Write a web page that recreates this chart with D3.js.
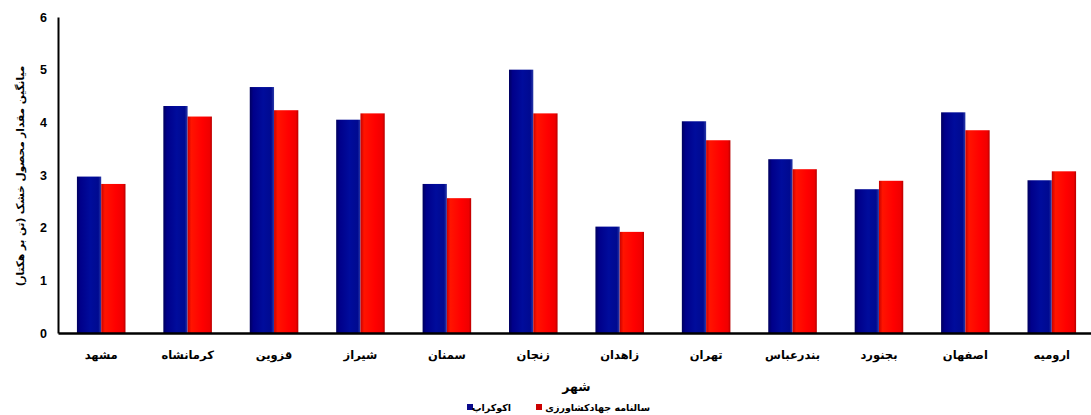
<!DOCTYPE html>
<html>
<head>
<meta charset="utf-8">
<script src="https://cdn.jsdelivr.net/npm/d3@7"></script>
<style>
  body { margin: 0; background: #fff; }
  svg { display: block; }
</style>
</head>
<body>
<svg id="chart"></svg>
<script>
// cities, left to right as in the picture
const cities = ["مشهد", "کرمانشاه", "قزوین", "شیراز", "سمنان", "زنجان",
                "زاهدان", "تهران", "بندرعباس", "بجنورد", "اصفهان", "ارومیه"];

// series values (ton / hectare)
const ecocrop = [2.97, 4.31, 4.67, 4.05, 2.83, 5.00, 2.02, 4.02, 3.30, 2.73, 4.19, 2.90];
const salnameh = [2.83, 4.11, 4.23, 4.17, 2.56, 4.17, 1.92, 3.66, 3.11, 2.89, 3.85, 3.07];

const seriesNames = ["اکوکراپ", "سالنامه جهادکشاورزی"];
const yTicks = [0, 1, 2, 3, 4, 5, 6];

const W = 1091, H = 415;
const plotLeft = 58, plotRight = 1095, plotTop = 17, plotBottom = 333;

const svg = d3.select("#chart").attr("width", W).attr("height", H);

// gradients to mimic the shaded bars
const defs = svg.append("defs");
function grad(id, stops) {
    const g = defs.append("linearGradient").attr("id", id)
        .attr("x1", "0%").attr("x2", "100%").attr("y1", "0%").attr("y2", "0%");
    stops.forEach(s => g.append("stop").attr("offset", s[0]).attr("stop-color", s[1]));
}
grad("gBlue", [["0%", "#00005e"], ["15%", "#00008a"], ["55%", "#000c9c"], ["88%", "#000a90"], ["100%", "#2a3aa8"]]);
grad("gRed", [["0%", "#c80000"], ["15%", "#ff1400"], ["60%", "#ff0000"], ["90%", "#f00000"], ["100%", "#b80000"]]);

const x = d3.scaleBand()
    .domain(cities)
    .range([plotLeft, plotRight])
    .paddingInner(0.438)
    .paddingOuter(0.219);

const x1 = d3.scaleBand()
    .domain([0, 1])
    .range([0, x.bandwidth()]);

const y = d3.scaleLinear()
    .domain([0, 6])
    .range([plotBottom, plotTop]);

// bars
const rows = cities.map((c, i) => ({ city: c, vals: [ecocrop[i], salnameh[i]] }));
const fills = ["url(#gBlue)", "url(#gRed)"];

svg.append("g").selectAll("g")
    .data(rows)
  .enter().append("g")
    .attr("transform", d => `translate(${x(d.city)},0)`)
  .selectAll("rect")
    .data(d => d.vals.map((v, k) => ({ k: k, v: v })))
  .enter().append("rect")
    .attr("x", d => x1(d.k))
    .attr("y", d => y(d.v))
    .attr("width", x1.bandwidth())
    .attr("height", d => y(0) - y(d.v))
    .attr("fill", d => fills[d.k]);

// y axis
const yAxis = svg.append("g")
    .attr("transform", `translate(${plotLeft},0)`)
    .call(d3.axisLeft(y).tickValues(yTicks).tickSize(0).tickPadding(11).tickFormat(d3.format("d")));
yAxis.select(".domain").attr("stroke", "#000").attr("stroke-width", 2);
yAxis.selectAll("text")
    .attr("font-family", "Liberation Sans, Arial, sans-serif")
    .attr("font-weight", "bold")
    .attr("font-size", 12.5)
    .attr("fill", "#000");

// x axis
const xAxis = svg.append("g")
    .attr("transform", `translate(0,${plotBottom})`)
    .call(d3.axisBottom(x).tickSize(0).tickPadding(18));
xAxis.select(".domain").attr("stroke", "#000").attr("stroke-width", 2.5);
xAxis.selectAll("text")
    .attr("font-family", "DejaVu Sans, sans-serif")
    .attr("font-weight", "bold")
    .attr("font-size", 11.5)
    .attr("fill", "#000");

// y axis title
svg.append("text")
    .attr("transform", `translate(24,176) rotate(-90)`)
    .attr("text-anchor", "middle")
    .attr("font-family", "DejaVu Sans, sans-serif")
    .attr("font-weight", "bold")
    .attr("font-size", 10.5)
    .text("میانگین مقدار محصول خشک (تن بر هکتار)");

// x axis title
svg.append("text")
    .attr("x", (plotLeft + plotRight) / 2)
    .attr("y", 391)
    .attr("text-anchor", "middle")
    .attr("font-family", "DejaVu Sans, sans-serif")
    .attr("font-weight", "bold")
    .attr("font-size", 12.5)
    .text("شهر");

// legend
const legend = [
    { name: seriesNames[0], color: "#0a0a8c", sx: 467, tx: 511 },
    { name: seriesNames[1], color: "#cc0000", sx: 536, tx: 650 }
];
legend.forEach(l => {
    svg.append("rect")
        .attr("x", l.sx).attr("y", 404)
        .attr("width", 6).attr("height", 6)
        .attr("fill", l.color);
    svg.append("text")
        .attr("x", l.tx).attr("y", 411)
        .attr("text-anchor", "end")
        .attr("font-family", "DejaVu Sans, sans-serif")
        .attr("font-weight", "bold")
        .attr("font-size", 9.5)
        .text(l.name);
});
</script>
</body>
</html>
